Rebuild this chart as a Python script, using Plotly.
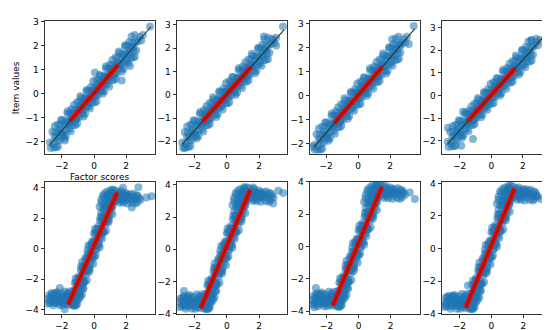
import plotly.graph_objects as go

# ---------------- data ----------------
# Top row: item values vs factor scores (linear items)
top_core_x = [-2.60, -2.56, -2.50, -2.46, -2.40, -2.36, -2.30, -2.26, -2.20, -2.16,
              -2.10, -2.06, -2.00, -1.96, -1.90, -1.86, -1.80, -1.76, -1.70, -1.66,
              -1.60, -1.56, -1.50, -1.46, -1.40, -1.36, -1.30, -1.26, -1.20, -1.16,
              -1.10, -1.06, -1.00, -0.96, -0.90, -0.86, -0.80, -0.76, -0.70, -0.66,
              -0.60, -0.56, -0.50, -0.46, -0.40, -0.36, -0.30, -0.26, -0.20, -0.16,
              -0.10, -0.06, 0.00, 0.04, 0.10, 0.14, 0.20, 0.24, 0.30, 0.34,
              0.40, 0.44, 0.50, 0.54, 0.60, 0.64, 0.70, 0.74, 0.80, 0.84,
              0.90, 0.94, 1.00, 1.04, 1.10, 1.14, 1.20, 1.24, 1.30, 1.34,
              1.40, 1.44, 1.50, 1.54, 1.60, 1.64, 1.70, 1.74, 1.80, 1.84,
              1.90, 1.94, 2.00, 2.04, 2.10, 2.14, 2.20, 2.24, 2.30, 2.34,
              2.40, 2.44, 2.50, 2.54, 2.60, 2.64, 2.72, 2.85, 2.95, 3.05,
              -2.70, -2.75, -1.15, -0.95, -0.75, -0.55, -0.35, -0.15, 0.05, 0.25,
              0.45, 0.65, 0.85, 1.05, 1.25]
top_core_y = [-1.60, -2.10, -2.25, -1.80, -1.62, -2.24, -1.96, -1.29, -1.62, -1.95,
              -1.29, -1.61, -1.13, -1.63, -1.78, -1.33, -1.15, -1.77, -1.50, -0.83,
              -1.15, -1.48, -0.82, -1.14, -0.66, -1.16, -1.31, -0.86, -0.69, -1.31,
              -1.03, -0.36, -0.68, -1.01, -0.35, -0.67, -0.19, -0.69, -0.85, -0.40,
              -0.22, -0.84, -0.56, 0.11, -0.21, -0.54, 0.12, -0.20, 0.27, -0.23,
              -0.38, 0.07, 0.25, -0.37, -0.09, 0.58, 0.26, -0.07, 0.58, 0.26,
              0.74, 0.24, 0.09, 0.54, 0.72, 0.10, 0.38, 1.05, 0.72, 0.39,
              1.05, 0.73, 1.21, 0.71, 0.56, 1.01, 1.19, 0.57, 0.84, 1.51,
              1.19, 0.86, 1.52, 1.20, 1.68, 1.18, 1.03, 1.48, 1.65, 1.03,
              1.31, 1.98, 1.66, 1.33, 1.99, 1.67, 2.15, 1.65, 1.49, 1.94,
              2.12, 1.50, 1.78, 2.45, 2.13, 1.80, 2.18, 2.35, 2.22, 2.45,
              -2.28, -2.05, -0.84, -0.83, -0.45, -0.47, -0.24, -0.23, 0.15, 0.19,
              0.44, 0.42, 0.70, 0.77, 1.09]
top_fill_x = [-2.45, -2.35, -2.25, -2.15, -2.05, -1.95, -1.85, -1.75, -1.65, -1.55,
              -1.45, -1.35, -1.25, -1.15, -1.05, -0.95, -0.85, -0.75, -0.65, -0.55,
              -0.45, -0.35, -0.25, -0.15, -0.05, 0.05, 0.15, 0.25, 0.35, 0.45,
              0.55, 0.65, 0.75, 0.85, 0.95, 1.05, 1.15, 1.25, 1.35, 1.45,
              1.55, 1.65, 1.75, 1.85, 1.95, 2.05, 2.15, 2.25, 2.35, 2.45,
              2.55, -0.92, -0.72, -0.52, -0.32, -0.12, 0.08, 0.28, 0.48, 0.68,
              0.88, 1.08, -1.12, 1.28, -1.32, 1.48, -1.52]
top_fill_y = [-1.36, -1.83, -2.21, -1.51, -1.10, -1.72, -1.87, -1.30, -0.74, -1.21,
              -1.58, -0.88, -0.48, -1.10, -1.25, -0.67, -0.11, -0.59, -0.96, -0.26,
              0.15, -0.47, -0.63, -0.05, 0.51, 0.04, -0.33, 0.37, 0.77, 0.15,
              0.00, 0.58, 1.14, 0.66, 0.29, 0.99, 1.40, 0.78, 0.62, 1.20,
              1.76, 1.29, 0.92, 1.61, 2.02, 1.40, 1.25, 1.83, 2.38, 1.91,
              1.54, -0.55, -0.70, -0.18, -0.38, 0.12, -0.08, 0.42, 0.28, 0.72,
              0.55, 1.00, -1.05, 0.92, -0.85, 1.30, -1.25]

# panel-specific outlying points, top row (panels 1..4)
top_out_x = [[3.50, 2.25, 1.73, 0.06, -1.81],
             [3.48, 3.06, 2.30, 2.80, -2.60],
             [3.48, 3.17, 2.13, 2.65, -2.84],
             [3.54, -1.16, -2.74, -1.79, 2.53, 2.85, -1.90]]
top_out_y = [[2.80, 1.15, 0.54, 0.88, -1.96],
             [2.93, 2.12, 2.50, 2.40, -2.30],
             [2.90, 2.15, 2.35, 2.08, -2.13],
             [3.02, -1.93, -1.43, -0.72, 2.43, 2.50, -2.22]]

# Bottom row: item values vs factor scores (saturating items)
bot_core_x = [-1.300, -1.275, -1.250, -1.225, -1.200, -1.175, -1.150, -1.125, -1.100, -1.075,
              -1.050, -1.025, -1.000, -0.975, -0.950, -0.925, -0.900, -0.875, -0.850, -0.825,
              -0.800, -0.775, -0.750, -0.725, -0.700, -0.675, -0.650, -0.625, -0.600, -0.575,
              -0.550, -0.525, -0.500, -0.475, -0.450, -0.425, -0.400, -0.375, -0.350, -0.325,
              -0.300, -0.275, -0.250, -0.225, -0.200, -0.175, -0.150, -0.125, -0.100, -0.075,
              -0.050, -0.025, 0.000, 0.025, 0.050, 0.075, 0.100, 0.125, 0.150, 0.175,
              0.200, 0.225, 0.250, 0.275, 0.300, 0.325, 0.350, 0.375, 0.400, 0.425,
              0.450, 0.475, 0.500, 0.525, 0.550, 0.575, 0.600, 0.625, 0.650, 0.675,
              0.700, 0.725, 0.750, 0.775, 0.800, 0.825, 0.850, 0.875, 0.900, 0.925,
              0.950, 0.975, 1.000, 1.025, 1.050, 1.075, 1.100, 1.125, 1.150, 1.175,
              # upper plateau
              0.45, 0.55, 0.62, 0.70, 0.78, 0.85, 0.92, 1.00, 1.08, 1.12,
              1.20, 1.25, 1.30, 1.35, 1.40, 1.45, 1.50, 1.55, 1.60, 1.65,
              1.70, 1.75, 1.80, 1.85, 1.90, 1.95, 2.00, 2.05, 2.10, 2.15,
              2.20, 2.28, 2.35, 2.42, 2.50, 2.58, 2.65, 2.72, 2.80, 1.15,
              1.55, 1.95, 1.30, 1.75,
              # lower plateau
              -2.85, -2.80, -2.76, -2.70, -2.65, -2.60, -2.55, -2.50, -2.45, -2.40,
              -2.35, -2.30, -2.25, -2.20, -2.15, -2.10, -2.05, -2.00, -1.95, -1.90,
              -1.85, -1.80, -1.76, -1.72, -1.68, -1.64, -1.60, -1.56, -1.52, -1.48,
              -1.45, -1.42, -1.38, -1.35, -1.30, -2.60, -2.40, -2.00, -1.70, -1.50,
              -2.20]
bot_core_y = [-2.76, -3.66, -3.70, -3.03, -2.74, -3.60, -3.11, -2.21, -2.72, -3.27,
              -3.04, -2.24, -1.95, -2.85, -2.97, -2.22, -1.93, -2.98, -2.30, -1.40,
              -1.91, -2.46, -2.23, -1.43, -1.14, -2.04, -2.16, -1.41, -1.12, -2.17,
              -1.49, -0.59, -1.10, -1.65, -1.42, -0.62, -0.33, -1.23, -1.35, -0.60,
              -0.31, -1.36, -0.68, 0.23, -0.29, -0.84, -0.61, 0.20, 0.48, -0.42,
              -0.54, 0.22, 0.50, -0.55, 0.14, 1.04, 0.52, -0.03, 0.21, 1.01,
              1.29, 0.39, 0.28, 1.03, 1.31, 0.26, 0.95, 1.85, 1.33, 0.78,
              1.02, 1.82, 2.10, 1.20, 1.09, 1.84, 2.12, 1.07, 1.76, 2.66,
              2.14, 1.59, 1.83, 2.63, 2.91, 2.01, 1.90, 2.65, 2.93, 1.88,
              2.57, 3.47, 2.95, 2.40, 2.64, 3.44, 3.72, 2.82, 2.71, 3.46,
              3.20, 3.50, 2.95, 3.65, 3.30, 3.75, 3.10, 3.55, 3.85, 3.25,
              3.60, 3.05, 3.40, 3.80, 3.15, 3.55, 3.30, 3.70, 3.00, 3.45,
              3.20, 3.60, 3.35, 3.00, 3.50, 3.20, 3.65, 3.30, 2.95, 3.45,
              3.15, 3.55, 3.25, 3.00, 3.40, 3.20, 3.50, 3.05, 3.30, 3.00,
              3.25, 3.40, 3.30, 3.10,
              -3.30, -3.05, -3.55, -3.20, -2.90, -3.45, -3.70, -3.10, -3.35, -2.90,
              -3.55, -3.20, -3.00, -3.45, -3.70, -3.25, -2.95, -3.50, -3.15, -3.35,
              -2.80, -3.60, -3.10, -3.40, -2.90, -3.65, -3.20, -3.45, -2.80, -3.55,
              -3.05, -3.30, -3.70, -3.10, -3.40, -3.00, -3.25, -3.30, -3.25, -3.30,
              -3.25]
bot_fill_x = [-1.2, -1.1, -1.0, -0.9, -0.8, -0.7, -0.6, -0.5, -0.4, -0.3,
              -0.2, -0.1, 0.0, 0.1, 0.2, 0.3, 0.4, 0.5, 0.6, 0.7,
              0.8, 0.9, 1.0, 1.1,
              -1.25, -1.15, -1.05, -0.95, -1.20, -1.10,
              0.60, 0.75, 0.90, 1.05, 1.20, 1.40, 1.60, 1.85, 2.05, 2.25,
              2.45, 2.60, 2.75, 2.90, 1.10, 1.70,
              -2.75, -2.50, -2.30, -2.10, -1.95, -1.80, -1.60, -1.40, -2.90, -2.45,
              # wider spread along the rise
              -1.15, -1.05, -0.95, -0.85, -0.75, -0.65, -0.55, -0.45, -0.35, -0.25,
              -0.15, -0.05, 0.05, 0.15, 0.25, 0.35, 0.45, 0.55, 0.65, 0.75,
              0.85, 0.95, 1.05, 1.15,
              -0.85, -0.75, -0.65, 0.35, 0.45, 0.55]
bot_fill_y = [-2.24, -3.67, -2.25, -2.58, -1.16, -2.59, -1.17, -1.50, -0.08, -1.51,
              -0.09, -0.42, 1.00, -0.43, 0.99, 0.66, 2.08, 0.65, 2.07, 1.74,
              3.16, 1.73, 3.15, 2.82,
              -3.20, -3.45, -3.60, -3.30, -3.75, -2.95,
              3.40, 2.85, 3.55, 3.30, 3.85, 3.45, 3.55, 3.30, 3.55, 3.35,
              3.60, 2.95, 3.45, 3.20, 3.70, 3.75,
              -3.40, -3.55, -2.85, -3.50, -3.70, -3.15, -2.95, -3.50, -3.60, -3.00,
              -1.96, -3.29, -1.82, -3.15, -0.88, -2.21, -0.74, -2.07, 0.21, -1.13,
              0.35, -0.99, 1.29, -0.05, 1.43, 0.10, 2.37, 1.04, 2.51, 1.18,
              3.45, 2.12, 3.59, 2.26,
              -2.75, -3.00, -2.60, 2.75, 3.00, 2.65]

# panel-specific outlying points, bottom row (panels 5..8)
bot_out_x = [[3.27, 3.60, 2.77, 1.81, 2.36, -2.14, -1.83],
             [3.19, 3.50, 2.87, 1.63, -2.65, -2.85],
             [3.52, 3.20, 2.68, 1.42, -2.66, -2.76],
             [3.44, 3.13, 2.81, 2.19, -2.81, -2.92, -1.46]]
bot_out_y = [[3.35, 3.43, 4.02, 3.98, 2.69, -2.58, -3.96],
             [3.64, 3.50, 2.84, 3.84, -2.60, -3.06],
             [2.94, 3.34, 3.34, 3.74, -2.56, -3.76],
             [2.72, 3.02, 3.22, 3.62, -2.98, -3.48, -2.28]]

# fitted lines
fit_top_x = [-2.75, 3.55]
fit_top_y = [-2.13, 2.79]
red_top_x = [-1.5, 1.5]
red_top_y = [-1.15, 1.19]
red_bot_x = [-1.60, 1.45]
red_bot_y = [-3.65, 3.68]

x_ticks = [-2, 0, 2]
y_ticks_top = [-2, -1, 0, 1, 2, 3]
y_ticks_bot = [-4, -2, 0, 2, 4]

# ---------------- layout geometry ----------------
W, H = 550, 330
col_px = [(37, 147), (169, 279), (302, 412), (434, 544)]
row_px = [(8, 145), (174, 310)]
x_ranges = [[-3.06, 3.81], [-3.08, 3.73], [-3.01, 3.87], [-3.12, 3.84],
            [-3.06, 3.81], [-3.08, 3.73], [-3.03, 3.84], [-3.08, 3.79]]
y_ranges = [[-2.51, 3.04], [-2.53, 3.18], [-2.41, 3.12], [-2.57, 3.30],
            [-4.25, 4.38], [-4.00, 4.20], [-4.15, 4.00], [-4.00, 4.10]]

BLUE = "#1f77b4"
DARK = "#203a30"
FONT = dict(family="DejaVu Sans", size=9, color="#000000")

fig = go.Figure()
layout = dict(width=W, height=H, margin=dict(l=0, r=0, t=0, b=0),
              paper_bgcolor="white", plot_bgcolor="white",
              showlegend=False, font=FONT)

for i in range(8):
    n = i + 1
    row, col = divmod(i, 4)
    xa = "x" if n == 1 else f"x{n}"
    ya = "y" if n == 1 else f"y{n}"
    if row == 0:
        px = top_core_x + top_fill_x + top_out_x[col]
        py = top_core_y + top_fill_y + top_out_y[col]
    else:
        px = bot_core_x + bot_fill_x + bot_out_x[col]
        py = bot_core_y + bot_fill_y + bot_out_y[col]
    fig.add_trace(go.Scatter(x=px, y=py, mode="markers", xaxis=xa, yaxis=ya,
                             marker=dict(color=BLUE, size=8, opacity=0.55,
                                         line=dict(width=0)),
                             hoverinfo="skip"))
    if row == 0:
        fig.add_trace(go.Scatter(x=red_top_x, y=red_top_y, mode="lines", xaxis=xa, yaxis=ya,
                                 line=dict(color="red", width=5), hoverinfo="skip"))
        fig.add_trace(go.Scatter(x=fit_top_x, y=fit_top_y, mode="lines", xaxis=xa, yaxis=ya,
                                 line=dict(color=DARK, width=1.1), hoverinfo="skip"))
    else:
        fig.add_trace(go.Scatter(x=red_bot_x, y=red_bot_y, mode="lines", xaxis=xa, yaxis=ya,
                                 line=dict(color="red", width=5), hoverinfo="skip"))
        fig.add_trace(go.Scatter(x=red_bot_x, y=red_bot_y, mode="lines", xaxis=xa, yaxis=ya,
                                 line=dict(color=DARK, width=1.0), hoverinfo="skip"))

    x0, x1 = col_px[col]
    y0, y1 = row_px[row]
    common = dict(showgrid=False, zeroline=False, showline=True, mirror=True,
                  linecolor="#333333", linewidth=1, ticks="outside", ticklen=3.5,
                  tickwidth=0.8, tickcolor="#333333", tickfont=FONT)
    layout["xaxis" if n == 1 else f"xaxis{n}"] = dict(
        domain=[x0 / W, x1 / W], anchor=ya, range=x_ranges[i],
        tickmode="array", tickvals=x_ticks, **common)
    layout["yaxis" if n == 1 else f"yaxis{n}"] = dict(
        domain=[1 - y1 / H, 1 - y0 / H], anchor=xa, range=y_ranges[i],
        tickmode="array", tickvals=(y_ticks_top if row == 0 else y_ticks_bot), **common)

layout["annotations"] = [
    dict(text="Item values", x=8 / W, y=1 - 77.5 / H, xref="paper", yref="paper",
         textangle=-90, showarrow=False, xanchor="center", yanchor="middle", font=FONT),
    dict(text="Factor scores", x=91.5 / W, y=1 - 169 / H, xref="paper", yref="paper",
         showarrow=False, xanchor="center", yanchor="middle", font=FONT),
]

fig.update_layout(**layout)
fig.write_html("out.html")
